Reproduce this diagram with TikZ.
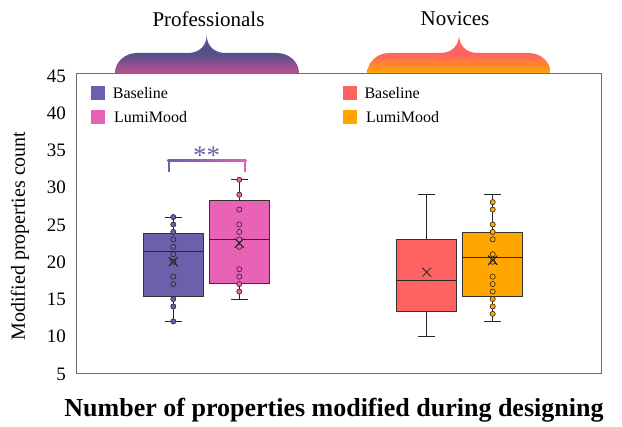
\documentclass[tikz,border=0pt]{standalone}
\usepackage{fontspec}
\setmainfont{Liberation Serif}
\definecolor{purp}{RGB}{106,96,172}
\definecolor{pinkb}{RGB}{232,99,182}
\definecolor{redb}{RGB}{255,99,97}
\definecolor{orab}{RGB}{255,166,0}
\definecolor{braceA}{RGB}{88,80,141}
\definecolor{braceB}{RGB}{188,80,144}
\definecolor{framec}{RGB}{110,110,110}
\def\V#1{(373.5-((#1)-5)*7.45)}
\newcommand\mybox[8]{%
  \draw[whisk] (#1,{\V{#7}}) -- (#1,{\V{#8}});
  \draw[whisk] ({#1-8.5},{\V{#7}}) -- ({#1+8.5},{\V{#7}});
  \draw[whisk] ({#1-8.5},{\V{#8}}) -- ({#1+8.5},{\V{#8}});
  \filldraw[boxfill=#2] ({#1-30},{\V{#3}}) rectangle ({#1+30},{\V{#4}});
  \draw[whisk] ({#1-30},{\V{#5}}) -- ({#1+30},{\V{#5}});
  \draw[meanx] ({#1-4.5},{\V{#6}-4.5}) -- ({#1+4.5},{\V{#6}+4.5})
               ({#1-4.5},{\V{#6}+4.5}) -- ({#1+4.5},{\V{#6}-4.5});
}
\begin{document}
\begin{tikzpicture}[x=1pt,y=-1pt,
  boxfill/.style={draw=black!80, line width=0.8pt, fill=#1},
  whisk/.style={draw=black!85, line width=0.9pt},
  dotc/.style={draw=black!85, line width=0.6pt, fill=#1},
  meanx/.style={draw=black!85, line width=0.8pt},
  ticklab/.style={anchor=east, inner sep=0pt, font=\fontsize{19}{22}\selectfont},
  legtxt/.style={anchor=west, inner sep=0pt, font=\fontsize{16}{19}\selectfont},
  grouptitle/.style={inner sep=0pt, font=\fontsize{21}{25}\selectfont}]
\useasboundingbox (0,0) rectangle (622,427);

% braces
\shade[top color=braceA, bottom color=braceB, middle color=braceA]
  (115,73) .. controls (115,62) and (125,53) .. (137,53) -- (188,53)
  .. controls (200,53) and (206.7,45) .. (206.7,35)
  .. controls (206.7,45) and (213.4,53) .. (225.4,53) -- (277,53)
  .. controls (289,53) and (299,62) .. (299,73) -- cycle;
\shade[top color=redb, bottom color=orab, middle color=redb]
  (367.3,73) .. controls (367.3,62) and (377.3,53) .. (389.3,53) -- (440.3,53)
  .. controls (452.3,53) and (459,45) .. (459,35)
  .. controls (459,45) and (465.7,53) .. (477.7,53) -- (528.7,53)
  .. controls (540.7,53) and (550.7,62) .. (550.7,73) -- cycle;
\node[grouptitle] (tprof) at (208.5,19) {Professionals};
\node[grouptitle] (tnov) at (455,19) {Novices};

% frame
\draw[framec, line width=0.9pt] (76,73) rectangle (601.7,373.5);

% y ticks
\foreach \t in {5,10,...,45}
  \node[ticklab] (y\t) at (66,{\V{\t}+0.5}) {\t};
\node[rotate=90, inner sep=0pt, font=\fontsize{20}{24}\selectfont] (ytitle) at (20,236) {Modified properties count};
\node[inner sep=0pt, font=\bfseries\fontsize{26}{30}\selectfont] (xtitle) at (334,410) {Number of properties modified during designing};

% legend
\fill[purp] (91,86) rectangle (105,100);
\fill[pinkb] (91,110) rectangle (105,124);
\fill[redb] (343,86) rectangle (357,100);
\fill[orab] (343,110) rectangle (357,124);
\node[legtxt] (l1) at (112.7,93) {Baseline};
\node[legtxt] (l2) at (114,117) {LumiMood};
\node[legtxt] (l3) at (364.3,93) {Baseline};
\node[legtxt] (l4) at (366,117) {LumiMood};

% boxes
\mybox{173.3}{purp}{15.4}{23.8}{21.35}{20}{12}{26}
\foreach \p in {26,25,24,23,22,21,20,18,17,15,14,12}
  \draw[dotc=purp] (173.3,{\V{\p}}) circle[radius=2.6pt];
\draw[meanx] (168.8,{\V{20}-4.5}) -- (177.8,{\V{20}+4.5}) (168.8,{\V{20}+4.5}) -- (177.8,{\V{20}-4.5});

\mybox{239.3}{pinkb}{17.1}{28.3}{23}{22.5}{15}{31}
\foreach \p in {31,29,27,25,24,23,22,19,18,17,16}
  \draw[dotc=pinkb] (239.3,{\V{\p}}) circle[radius=2.6pt];
\draw[meanx] (234.8,{\V{22.5}-4.5}) -- (243.8,{\V{22.5}+4.5}) (234.8,{\V{22.5}+4.5}) -- (243.8,{\V{22.5}-4.5});

\mybox{426.7}{redb}{13.4}{23}{17.55}{18.6}{10}{29}

\mybox{492.7}{orab}{15.3}{24}{20.6}{20.2}{12}{29}
\foreach \p in {28,27,25,24,23,21,20,18,17,16,15,14,13}
  \draw[dotc=orab] (492.7,{\V{\p}}) circle[radius=2.6pt];
\draw[meanx] (488.2,{\V{20.2}-4.5}) -- (497.2,{\V{20.2}+4.5}) (488.2,{\V{20.2}+4.5}) -- (497.2,{\V{20.2}-4.5});

% significance bracket
\fill[purp] (167.7,159.3) rectangle (170.4,171.8);
\shade[left color=purp, right color=pinkb!90!purp] (167.7,159.3) rectangle (246.3,162);
\fill[pinkb!90!purp] (243.6,159.3) rectangle (246.3,171.8);
\node[inner sep=0pt, text=purp, font=\fontsize{27}{30}\selectfont] (sig) at (206.7,156) {**};
\end{tikzpicture}
\end{document}
